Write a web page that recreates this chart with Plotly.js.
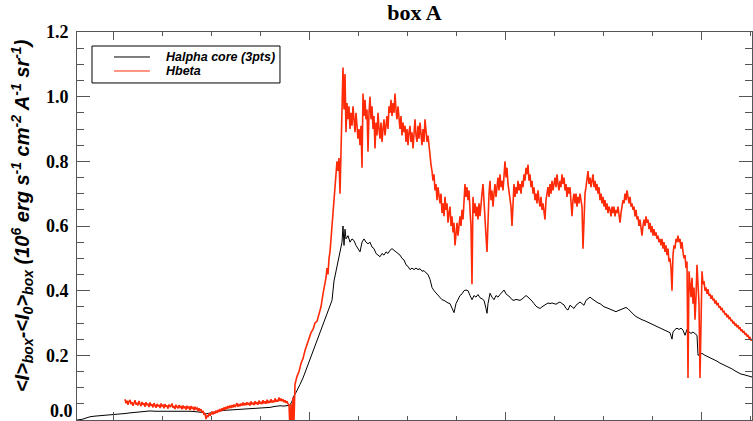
<!DOCTYPE html>
<html>
<head>
<meta charset="utf-8">
<script src="https://cdn.plot.ly/plotly-3.0.1.min.js"></script>
<style>html,body{margin:0;padding:0;background:#fff;}#chart{width:753px;height:421px;}</style>
</head>
<body>
<div id="chart"></div>
<script>
// Series names
const seriesNames = ["Halpha core (3pts)", "Hbeta"];

// Halpha core (3pts): [x, value]
const halphaCore = [
[77,0.0],[82,0.002],[86,0.006],[90,0.01],[95,0.012],[100,0.013],[105,0.014],[110,0.015],[115,0.016],[120,0.017],
[125,0.02],[130,0.022],[135,0.024],[140,0.025],[145,0.026],[150,0.028],[155,0.027],[160,0.027],[165,0.028],[170,0.029],
[175,0.029],[180,0.028],[185,0.027],[190,0.027],[195,0.026],[200,0.025],[203,0.023],[206,0.019],[209,0.021],[212,0.024],
[216,0.027],[220,0.028],[225,0.03],[230,0.031],[235,0.031],[240,0.032],[245,0.033],[250,0.034],[255,0.035],[260,0.036],
[265,0.037],[270,0.039],[275,0.042],[280,0.044],[284,0.043],[288,0.045],[290,0.046],[292,0.058],[294,0.075],[296,0.085],
[298,0.1],[300,0.11],[303,0.13],[306,0.155],[309,0.18],[312,0.2],[315,0.225],[318,0.25],[321,0.28],[324,0.3],
[327,0.33],[330,0.35],[332,0.37],[334,0.43],[336,0.46],[338,0.5],[340,0.52],[342,0.55],[343,0.6],[344,0.54],
[345,0.59],[346,0.56],[348,0.57],[350,0.55],[352,0.56],[354,0.555],[356,0.54],[358,0.53],[360,0.52],[362,0.55],
[364,0.56],[366,0.55],[368,0.545],[370,0.55],[372,0.535],[374,0.53],[376,0.515],[378,0.51],[380,0.505],[382,0.515],
[384,0.51],[386,0.52],[388,0.515],[390,0.525],[392,0.53],[394,0.525],[396,0.52],[398,0.515],[400,0.51],[402,0.5],
[404,0.495],[406,0.48],[408,0.475],[410,0.465],[412,0.47],[414,0.465],[416,0.47],[418,0.465],[420,0.468],[422,0.46],
[424,0.462],[426,0.455],[428,0.45],[430,0.435],[432,0.41],[434,0.4],[436,0.393],[438,0.385],[440,0.378],[442,0.372],
[444,0.37],[446,0.365],[448,0.362],[450,0.36],[452,0.345],[454,0.332],[456,0.36],[458,0.372],[460,0.385],[462,0.39],
[464,0.4],[466,0.402],[468,0.4],[470,0.385],[472,0.372],[474,0.385],[476,0.38],[478,0.388],[480,0.378],[482,0.375],
[484,0.37],[486,0.345],[487,0.33],[488,0.36],[490,0.392],[492,0.38],[494,0.372],[496,0.385],[498,0.38],[500,0.388],
[502,0.395],[504,0.402],[506,0.39],[508,0.385],[510,0.38],[512,0.372],[514,0.37],[516,0.373],[518,0.372],[520,0.37],
[522,0.374],[524,0.38],[526,0.385],[528,0.38],[530,0.375],[532,0.368],[534,0.36],[536,0.352],[538,0.348],[540,0.345],
[542,0.35],[544,0.355],[546,0.36],[548,0.362],[550,0.36],[552,0.362],[554,0.36],[556,0.358],[558,0.362],[560,0.365],
[562,0.36],[564,0.356],[566,0.345],[568,0.34],[570,0.355],[572,0.35],[574,0.345],[576,0.355],[578,0.36],[580,0.365],
[582,0.36],[584,0.355],[586,0.37],[588,0.375],[590,0.38],[592,0.375],[594,0.37],[596,0.366],[598,0.362],[600,0.36],
[602,0.355],[604,0.35],[606,0.348],[608,0.345],[610,0.343],[612,0.34],[614,0.337],[616,0.335],[618,0.338],[620,0.341],
[622,0.343],[624,0.345],[626,0.348],[628,0.344],[630,0.337],[632,0.33],[634,0.325],[636,0.32],[638,0.316],[640,0.312],
[642,0.31],[644,0.308],[646,0.305],[648,0.303],[650,0.3],[652,0.298],[654,0.295],[656,0.292],[658,0.289],[660,0.286],
[662,0.282],[664,0.278],[666,0.275],[668,0.272],[670,0.27],[671,0.26],[672,0.25],[673,0.272],[675,0.28],[677,0.284],
[679,0.28],[681,0.284],[683,0.278],[685,0.262],[687,0.28],[689,0.272],[691,0.268],[693,0.272],[695,0.268],[697,0.262],
[698,0.2],[700,0.204],[702,0.206],[705,0.2],[708,0.196],[711,0.19],[714,0.186],[717,0.182],[720,0.176],[723,0.172],
[726,0.167],[729,0.162],[732,0.158],[735,0.152],[738,0.147],[741,0.142],[744,0.14],[747,0.138],[750,0.135],[752,0.133]
];

// Hbeta: [x, value]
const hbeta = [
[125,0.064],[126,0.052],[127,0.06],[128,0.047],[129,0.058],[130,0.062],[131,0.049],[132,0.055],[133,0.044],[134,0.057],
[135,0.061],[136,0.048],[137,0.053],[138,0.045],[139,0.059],[140,0.05],[141,0.043],[142,0.056],[143,0.047],[144,0.052],
[145,0.041],[146,0.055],[147,0.046],[148,0.05],[149,0.04],[150,0.054],[151,0.044],[152,0.049],[153,0.039],[154,0.052],
[155,0.045],[156,0.038],[157,0.05],[158,0.042],[159,0.047],[160,0.037],[161,0.051],[162,0.043],[163,0.046],[164,0.036],
[165,0.049],[166,0.041],[167,0.045],[168,0.035],[169,0.048],[170,0.04],[171,0.044],[172,0.051],[173,0.038],[174,0.043],
[175,0.034],[176,0.047],[177,0.04],[178,0.036],[179,0.046],[180,0.039],[181,0.043],[182,0.033],[183,0.045],[184,0.038],
[185,0.042],[186,0.032],[187,0.044],[188,0.037],[189,0.04],[190,0.031],[191,0.043],[192,0.036],[193,0.039],[194,0.03],
[195,0.041],[196,0.034],[197,0.037],[198,0.028],[199,0.036],[200,0.029],[201,0.033],[202,0.024],[203,0.028],[204,0.016],
[205,0.021],[206,0.003],[207,0.014],[208,0.009],[209,0.021],[210,0.013],[211,0.018],[212,0.026],[213,0.017],[214,0.024],
[215,0.02],[216,0.029],[217,0.022],[218,0.031],[219,0.025],[220,0.034],[221,0.027],[222,0.036],[223,0.03],[224,0.039],
[225,0.031],[226,0.041],[227,0.034],[228,0.043],[229,0.036],[230,0.045],[231,0.037],[232,0.046],[233,0.039],[234,0.048],
[235,0.04],[236,0.047],[237,0.052],[238,0.041],[239,0.049],[240,0.043],[241,0.051],[242,0.044],[243,0.054],[244,0.045],
[245,0.052],[246,0.046],[247,0.055],[248,0.047],[249,0.053],[250,0.045],[251,0.057],[252,0.048],[253,0.054],[254,0.046],
[255,0.058],[256,0.049],[257,0.055],[258,0.047],[259,0.06],[260,0.05],[261,0.056],[262,0.049],[263,0.061],[264,0.051],
[265,0.058],[266,0.05],[267,0.063],[268,0.052],[269,0.059],[270,0.053],[271,0.064],[272,0.054],[273,0.06],[274,0.055],
[275,0.067],[276,0.056],[277,0.062],[278,0.057],[279,0.07],[280,0.059],[281,0.066],[282,0.058],[283,0.064],[284,0.055],
[285,0.061],[286,0.053],[287,0.058],[288,0.05],[289,0.047],[290,-0.03],[291,0.05],[292,-0.03],[293,0.07],[294,0.0],
[295,0.11],[297,0.135],[299,0.15],[301,0.175],[303,0.19],[305,0.215],[307,0.235],[309,0.25],[311,0.27],[313,0.28],
[315,0.3],[317,0.305],[319,0.33],[321,0.35],[323,0.39],[325,0.42],[326,0.44],[327,0.47],[328,0.45],[329,0.5],
[330,0.52],[331,0.56],[332,0.6],[333,0.66],[334,0.7],[335,0.74],[336,0.76],[337,0.8],[338,0.77],[339,0.81],
[340,0.7],[341,0.83],[342,0.93],[343,1.09],[344,0.96],[345,1.07],[346,0.89],[347,0.98],[348,0.93],[349,0.97],
[350,0.9],[351,0.95],[352,0.91],[353,0.97],[354,0.93],[355,0.89],[356,0.95],[357,0.92],[358,0.87],[359,0.9],
[360,0.85],[361,0.91],[362,0.78],[363,1.01],[364,0.94],[365,0.99],[366,0.93],[367,0.96],[368,0.83],[369,0.95],
[370,1.0],[371,0.93],[372,0.97],[373,0.9],[374,0.94],[375,0.84],[376,0.92],[377,0.88],[378,0.95],[379,0.9],
[380,0.87],[381,0.92],[382,0.86],[383,0.9],[384,0.93],[385,0.88],[386,0.91],[387,0.94],[388,0.9],[389,0.97],
[390,0.95],[391,0.99],[392,0.94],[393,0.98],[394,0.95],[395,1.01],[396,0.96],[397,0.93],[398,0.97],[399,0.92],
[400,0.9],[401,0.94],[402,0.88],[403,0.92],[404,0.89],[405,0.91],[406,0.86],[407,0.9],[408,0.85],[409,0.89],
[410,0.91],[411,0.86],[412,0.89],[413,0.84],[414,0.9],[415,0.93],[416,0.88],[417,0.86],[418,0.91],[419,0.87],
[420,0.92],[421,0.88],[422,0.85],[423,0.9],[424,0.86],[425,0.93],[426,0.89],[427,0.86],[428,0.88],[429,0.84],
[430,0.82],[431,0.79],[432,0.77],[433,0.74],[434,0.76],[435,0.71],[436,0.73],[437,0.68],[438,0.72],[439,0.7],
[440,0.67],[441,0.7],[442,0.64],[443,0.67],[444,0.63],[445,0.69],[446,0.65],[447,0.67],[448,0.61],[449,0.64],
[450,0.66],[451,0.6],[452,0.63],[453,0.58],[454,0.61],[455,0.54],[456,0.59],[457,0.61],[458,0.57],[459,0.6],
[460,0.63],[461,0.6],[462,0.65],[463,0.62],[464,0.67],[465,0.73],[466,0.69],[467,0.72],[468,0.68],[469,0.71],
[470,0.65],[471,0.6],[472,0.42],[473,0.69],[474,0.64],[475,0.67],[476,0.63],[477,0.66],[478,0.62],[479,0.67],
[480,0.63],[481,0.68],[482,0.7],[483,0.73],[484,0.66],[485,0.61],[486,0.57],[487,0.52],[488,0.65],[489,0.7],
[490,0.74],[491,0.68],[492,0.71],[493,0.66],[494,0.7],[495,0.73],[496,0.69],[497,0.72],[498,0.75],[499,0.71],
[500,0.76],[501,0.72],[502,0.74],[503,0.71],[504,0.76],[505,0.8],[506,0.75],[507,0.78],[508,0.73],[509,0.71],
[510,0.68],[511,0.66],[512,0.6],[513,0.7],[514,0.73],[515,0.69],[516,0.72],[517,0.7],[518,0.74],[519,0.71],
[520,0.73],[521,0.7],[522,0.74],[523,0.72],[524,0.76],[525,0.74],[526,0.78],[527,0.76],[528,0.79],[529,0.74],
[530,0.76],[531,0.72],[532,0.74],[533,0.7],[534,0.72],[535,0.68],[536,0.7],[537,0.67],[538,0.71],[539,0.68],
[540,0.66],[541,0.69],[542,0.65],[543,0.67],[544,0.64],[545,0.62],[546,0.68],[547,0.7],[548,0.72],[549,0.69],
[550,0.73],[551,0.7],[552,0.74],[553,0.71],[554,0.73],[555,0.75],[556,0.72],[557,0.76],[558,0.73],[559,0.71],
[560,0.74],[561,0.72],[562,0.76],[563,0.73],[564,0.75],[565,0.71],[566,0.73],[567,0.69],[568,0.72],[569,0.7],
[570,0.72],[571,0.68],[572,0.63],[573,0.68],[574,0.7],[575,0.67],[576,0.7],[577,0.66],[578,0.69],[579,0.67],
[580,0.7],[581,0.68],[582,0.66],[583,0.53],[584,0.66],[585,0.7],[586,0.72],[587,0.75],[588,0.77],[589,0.73],
[590,0.75],[591,0.72],[592,0.74],[593,0.76],[594,0.72],[595,0.74],[596,0.71],[597,0.73],[598,0.7],[599,0.72],
[600,0.68],[601,0.7],[602,0.67],[603,0.69],[604,0.66],[605,0.68],[606,0.65],[607,0.67],[608,0.64],[609,0.66],
[610,0.65],[611,0.63],[612,0.66],[613,0.64],[614,0.66],[615,0.63],[616,0.65],[617,0.64],[618,0.66],[619,0.63],
[620,0.61],[621,0.64],[622,0.66],[623,0.68],[624,0.67],[625,0.7],[626,0.68],[627,0.71],[628,0.69],[629,0.67],
[630,0.69],[631,0.66],[632,0.67],[633,0.65],[634,0.66],[635,0.63],[636,0.65],[637,0.62],[638,0.63],[639,0.6],
[640,0.62],[641,0.59],[642,0.57],[643,0.6],[644,0.62],[645,0.6],[646,0.63],[647,0.61],[648,0.62],[649,0.59],
[650,0.61],[651,0.58],[652,0.6],[653,0.57],[654,0.59],[655,0.57],[656,0.58],[657,0.56],[658,0.57],[659,0.55],
[660,0.56],[661,0.54],[662,0.56],[663,0.53],[664,0.55],[665,0.52],[666,0.54],[667,0.51],[668,0.53],[669,0.49],
[670,0.5],[671,0.47],[672,0.4],[673,0.51],[674,0.54],[675,0.53],[676,0.56],[677,0.55],[678,0.57],[679,0.55],
[680,0.56],[681,0.53],[682,0.55],[683,0.52],[684,0.5],[685,0.51],[686,0.47],[687,0.49],[688,0.13],[689,0.46],
[690,0.43],[691,0.38],[692,0.44],[693,0.36],[694,0.41],[695,0.31],[696,0.38],[697,0.48],[698,0.42],[699,0.36],
[700,0.13],[701,0.33],[702,0.46],[703,0.42],[704,0.43],[705,0.4],[706,0.41],[707,0.39],[708,0.405],[709,0.385],
[710,0.39],[711,0.375],[712,0.385],[713,0.37],[714,0.375],[715,0.36],[716,0.37],[717,0.355],[718,0.362],[719,0.348],
[720,0.352],[721,0.34],[722,0.347],[723,0.333],[724,0.338],[725,0.325],[726,0.33],[727,0.318],[728,0.325],[729,0.312],
[730,0.318],[731,0.306],[732,0.31],[733,0.298],[734,0.304],[735,0.292],[736,0.298],[737,0.287],[738,0.293],[739,0.281],
[740,0.287],[741,0.275],[742,0.28],[743,0.27],[744,0.275],[745,0.264],[746,0.268],[747,0.258],[748,0.263],[749,0.252],
[750,0.257],[751,0.246],[752,0.25]
];

// y tick values and labels (the 0.0 label is placed as a text at the axis foot so it is not cut by the page edge)
const yTickVals = [0, 0.2, 0.4, 0.6, 0.8, 1.0, 1.2];
const yTickText = ["", "0.2", "0.4", "0.6", "0.8", "1.0", "1.2"];
const yZeroLabel = "0.0";
const yTitle = '&lt;<i>I</i>&gt;<sub>box</sub>-&lt;<i>I</i><sub>0</sub>&gt;<sub>box</sub> (10<sup>6</sup> erg s<sup>-1</sup> cm<sup>-2</sup> A<sup>-1</sup> sr<sup>-1</sup>)';

// axis ranges
const xRange = [77, 752];
const yRange = [0, 1.2];

const axisCol = '#555';
const redCol = '#ff2a08';

const traces = [
  {x: halphaCore.map(p => p[0]), y: halphaCore.map(p => p[1]), name: seriesNames[0],
   type: 'scatter', mode: 'lines', line: {color: '#000000', width: 1}, showlegend: false},
  {x: hbeta.map(p => p[0]), y: hbeta.map(p => p[1]), name: seriesNames[1],
   type: 'scatter', mode: 'lines', line: {color: redCol, width: 1.6}, showlegend: false},
  // invisible carrier so the minor-tick overlay axes are drawn
  {x: xRange, y: yRange, xaxis: 'x2', yaxis: 'y2', type: 'scatter', mode: 'lines',
   line: {width: 0, color: 'rgba(0,0,0,0)'}, showlegend: false, hoverinfo: 'skip'}
];

// legend box in paper coords (plot area 675 x 388 px)
const L = {x0: 0.0222, x1: 0.3007, y0: 0.8686, y1: 0.9639, lx0: 0.0548, lx1: 0.1081, tx: 0.1289, r1: 0.9356, r2: 0.8995};
const legFont = {family: 'Liberation Sans', size: 12.5, color: '#000', weight: 'bold', style: 'italic'};
const tickFont = {family: 'Liberation Serif', size: 18, color: '#000', weight: 'bold'};

const layout = {
  width: 753, height: 421,
  margin: {l: 77, r: 1, t: 32, b: 1},
  paper_bgcolor: '#ffffff', plot_bgcolor: '#ffffff',
  showlegend: false,
  title: {text: 'box A', x: 0.5, xref: 'paper', xanchor: 'center', y: 0.972, yref: 'container', yanchor: 'middle',
          font: {family: 'Liberation Serif', size: 22, color: '#000', weight: 'bold'}},
  xaxis: {range: xRange, showgrid: false, zeroline: false, showline: true, linecolor: axisCol, linewidth: 1,
          mirror: 'ticks', ticks: 'inside', ticklen: 8, tickcolor: axisCol, tickwidth: 1,
          tick0: 113, dtick: 196, showticklabels: false},
  xaxis2: {overlaying: 'x', anchor: 'y', range: xRange, showgrid: false, zeroline: false, showline: false,
           mirror: 'ticks', ticks: 'inside', ticklen: 4, tickcolor: axisCol, tickwidth: 1,
           tick0: 113, dtick: 49, showticklabels: false},
  yaxis: {range: yRange, showgrid: false, zeroline: false, showline: true, linecolor: axisCol, linewidth: 1,
          mirror: 'ticks', ticks: 'inside', ticklen: 13, tickcolor: axisCol, tickwidth: 1,
          tickvals: yTickVals, ticktext: yTickText, ticklabelstandoff: 4,
          tickfont: tickFont},
  yaxis2: {overlaying: 'y', anchor: 'x', side: 'left', range: yRange, showgrid: false, zeroline: false, showline: false,
           mirror: 'ticks', ticks: 'inside', ticklen: 7, tickcolor: axisCol, tickwidth: 1,
           tick0: 0, dtick: 0.05, showticklabels: false},
  shapes: [
    {type: 'rect', xref: 'paper', yref: 'paper', x0: L.x0, x1: L.x1, y0: L.y0, y1: L.y1,
     line: {color: '#000', width: 1}, fillcolor: 'rgba(255,255,255,0)'},
    {type: 'line', xref: 'paper', yref: 'paper', x0: L.lx0, x1: L.lx1, y0: L.r1, y1: L.r1, line: {color: '#000', width: 1}},
    {type: 'line', xref: 'paper', yref: 'paper', x0: L.lx0, x1: L.lx1, y0: L.r2, y1: L.r2, line: {color: redCol, width: 1}}
  ],
  annotations: [
    {xref: 'paper', yref: 'paper', x: L.tx, y: L.r1, xanchor: 'left', yanchor: 'middle', showarrow: false,
     text: seriesNames[0], font: legFont},
    {xref: 'paper', yref: 'paper', x: L.tx, y: L.r2, xanchor: 'left', yanchor: 'middle', showarrow: false,
     text: seriesNames[1], font: legFont},
    {xref: 'paper', yref: 'y', x: 0, y: yRange[0], xanchor: 'right', yanchor: 'bottom', xshift: -2, yshift: -3,
     showarrow: false, text: yZeroLabel, font: tickFont},
    // y-axis title
    {xref: 'paper', yref: 'paper', x: -0.0815, y: 0.528, xanchor: 'center', yanchor: 'middle', textangle: -90,
     showarrow: false, text: yTitle,
     font: {family: 'Liberation Sans', size: 20, color: '#000', weight: 'bold', style: 'italic'}}
  ]
};

Plotly.newPlot('chart', traces, layout, {displayModeBar: false, staticPlot: true});
</script>
</body>
</html>
